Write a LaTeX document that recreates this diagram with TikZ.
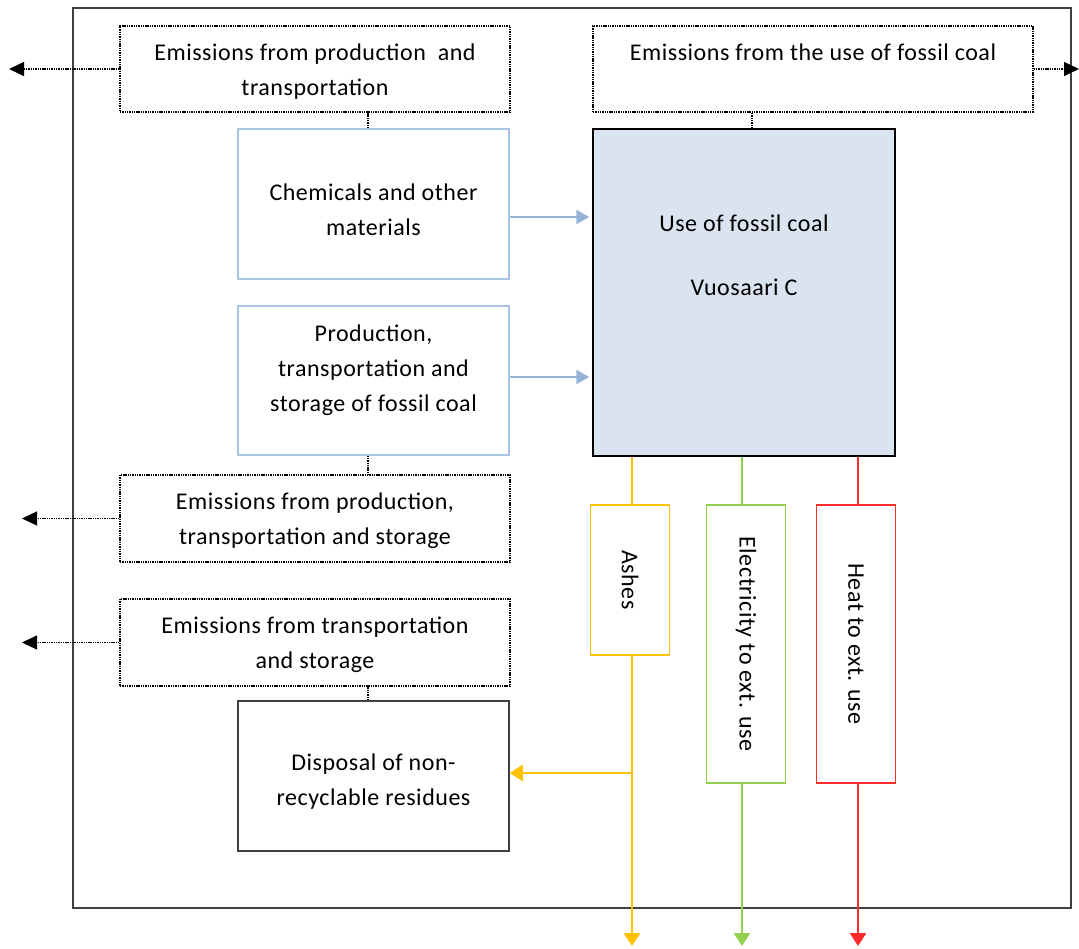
\documentclass[tikz,border=0pt]{standalone}
\usepackage{fontspec}
\setmainfont{Carlito}[LetterSpace=2.2]
\usetikzlibrary{arrows.meta}
\definecolor{frame}{HTML}{404040}
\definecolor{lblue}{HTML}{A9C3E3}
\definecolor{ablue}{HTML}{95B3D7}
\definecolor{coalfill}{HTML}{DAE3F0}
\definecolor{ashcol}{HTML}{FFC000}
\definecolor{elcol}{HTML}{92D050}
\definecolor{heatcol}{HTML}{FF2A2A}
\tikzset{
  txt/.style={font=\fontsize{24}{35}\selectfont, align=center, text=black},
  emis/.style={txt, draw=black, dash pattern=on 1.4pt off 0.9pt, line width=1.2pt, inner sep=0pt},
  matbox/.style={txt, draw=lblue, line width=1.3pt, inner sep=0pt},
  blackbox/.style={txt, draw=frame, line width=1.5pt, inner sep=0pt},
  dotline/.style={draw=black, dash pattern=on 1.4pt off 0.9pt, line width=1.2pt},
  outarrow/.style={dotline, -{Triangle[length=15pt,width=14pt]}},
  bluearrow/.style={draw=ablue, line width=2.2pt, -{Triangle[length=13pt,width=14pt]}},
  flow/.style={line width=2.8pt},
  flowtip/.style={flow, -{Triangle[length=13pt,width=16pt]}},
  flowbox/.style={txt, line width=1.5pt, inner sep=0pt, minimum width=79, fill=white},
}
\begin{document}
\begin{tikzpicture}[x=1pt,y=-1pt]
\useasboundingbox (0,0) rectangle (1079,949);

% system boundary
\draw[frame, line width=1.5pt] (73,8) rectangle (1071,908);

% emission boxes
\node[emis, minimum width=390, minimum height=86] (eprod) at (315,69) {};
\node[txt] (eprodtxt) at (315,71.5) {Emissions from production\ \ and\\transportation};
\node[emis, minimum width=440, minimum height=86] (euse) at (813,69) {};
\node[txt, anchor=north] (eusetxt) at (813,40) {Emissions from the use of fossil coal};
\node[emis, minimum width=390, minimum height=87] (epts) at (315,518.5) {};
\node[txt] (eptstxt) at (315,521) {Emissions from production,\\transportation and storage};
\node[emis, minimum width=390, minimum height=87] (ets) at (315,642.5) {};
\node[txt] (etstxt) at (315,645) {Emissions from transportation\\and storage};

% process boxes
\node[matbox, minimum width=271, minimum height=150] (chem) at (373.5,204) {};
\node[txt] (chemtxt) at (373.5,209.5) {Chemicals and other\\materials};
\node[matbox, minimum width=271, minimum height=149] (prod) at (373.5,380.5) {};
\node[txt] (prodtxt) at (373.5,370.5) {Production,\\transportation and\\storage of fossil coal};
\node[blackbox, minimum width=271, minimum height=150] (disp) at (373.5,776) {};
\node[txt] (disptxt) at (373.5,781.5) {Disposal of non-\\recyclable residues};
\node[blackbox, draw=black, fill=coalfill, minimum width=302, minimum height=327] (coal) at (744,292.5) {};
\node[txt, anchor=north] (coaltxt) at (744,211) {Use of fossil coal\\[29pt]Vuosaari C};

% output boxes
\coordinate (bot) at (0,946);
\node[flowbox, draw=ashcol, minimum height=150] (ash) at (630,580) {\rotatebox{-90}{Ashes}};
\node[flowbox, draw=elcol, minimum height=278] (elec) at (746,644) {\rotatebox{-90}{Electricity to ext. use}};
\node[flowbox, draw=heatcol, minimum height=278] (heat) at (856,644) {\rotatebox{-90}{Heat to ext. use}};

% dotted links between boxes
\draw[dotline] ([xshift=-5.5pt]chem.north) -- ([xshift=-5.5pt]chem.north |- eprod.south);
\draw[dotline] ([xshift=-5.5pt]prod.south) -- ([xshift=-5.5pt]prod.south |- epts.north);
\draw[dotline] ([xshift=-5.5pt]disp.north) -- ([xshift=-5.5pt]disp.north |- ets.south);
\draw[dotline] ([xshift=8pt]coal.north) -- ([xshift=8pt]coal.north |- euse.south);

% emissions leaving the system
\coordinate (lout1) at (9,0);
\coordinate (lout2) at (22,0);
\coordinate (rout) at (1079,0);
\draw[outarrow] (eprod.west) -- (eprod.west -| lout1);
\draw[outarrow] (epts.west) -- (epts.west -| lout2);
\draw[outarrow] (ets.west) -- (ets.west -| lout2);
\draw[outarrow] (euse.east) -- (euse.east -| rout);

% material inputs
\draw[bluearrow] ([yshift=-13pt]chem.east) -- ([yshift=-13pt,xshift=-3pt]chem.east -| coal.west);
\draw[bluearrow] ([yshift=3.5pt]prod.east) -- ([yshift=3.5pt,xshift=-3pt]prod.east -| coal.west);

% outputs
\draw[flow, ashcol] ([xshift=2pt]ash.north |- coal.south) -- ([xshift=2pt]ash.north);
\draw[flowtip, ashcol] ([xshift=2pt]ash.south) -- ([xshift=2pt]ash.south |- bot);
\draw[flowtip, ashcol] ([yshift=3pt,xshift=2pt]disp.east -| ash.south) -- ([yshift=3pt]disp.east);
\draw[flow, elcol] ([xshift=-4pt]elec.north |- coal.south) -- ([xshift=-4pt]elec.north);
\draw[flowtip, elcol] ([xshift=-4pt]elec.south) -- ([xshift=-4pt]elec.south |- bot);
\draw[flow, heatcol] ([xshift=2pt]heat.north |- coal.south) -- ([xshift=2pt]heat.north);
\draw[flowtip, heatcol] ([xshift=2pt]heat.south) -- ([xshift=2pt]heat.south |- bot);
\end{tikzpicture}
\end{document}
